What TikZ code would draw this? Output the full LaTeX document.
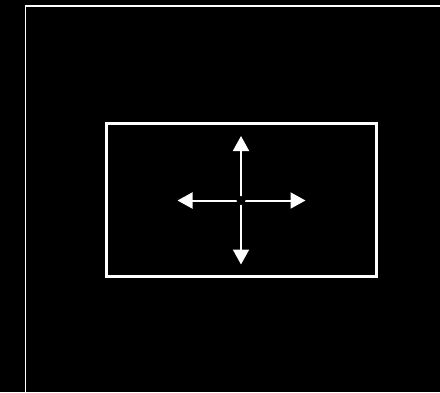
\documentclass[tikz,border=0pt]{standalone}
\usetikzlibrary{arrows.meta}
\begin{document}
\begin{tikzpicture}[x=1pt,y=-1pt,
  frameline/.style={draw=white,line width=1.2pt},
  boxline/.style={draw=white,line width=3pt},
  moveline/.style={draw=white,line width=2pt,-{Triangle[length=15pt,width=16pt]}},
  hub/.style={circle,fill=black,minimum size=9pt,inner sep=0pt}]
\fill[black] (0,0) rectangle (440,392);
\useasboundingbox (0,0) rectangle (440,392);
\draw[frameline] (25.5,392) -- (25.5,6) -- (440,6);
\node[boxline,rectangle,minimum width=270pt,minimum height=152.5pt,inner sep=0pt] (box) at (241.5,199.75) {};
\coordinate (c) at (241,200.5);
\coordinate (tu) at (241,136);
\coordinate (td) at (241,264.5);
\coordinate (tl) at (177.5,200.5);
\coordinate (tr) at (305.5,200.5);
\draw[moveline] (c) -- (tu);
\draw[moveline] (c) -- (td);
\draw[moveline] (c) -- (tl);
\draw[moveline] (c) -- (tr);
\node[hub] (h) at (c) {};
\end{tikzpicture}
\end{document}
